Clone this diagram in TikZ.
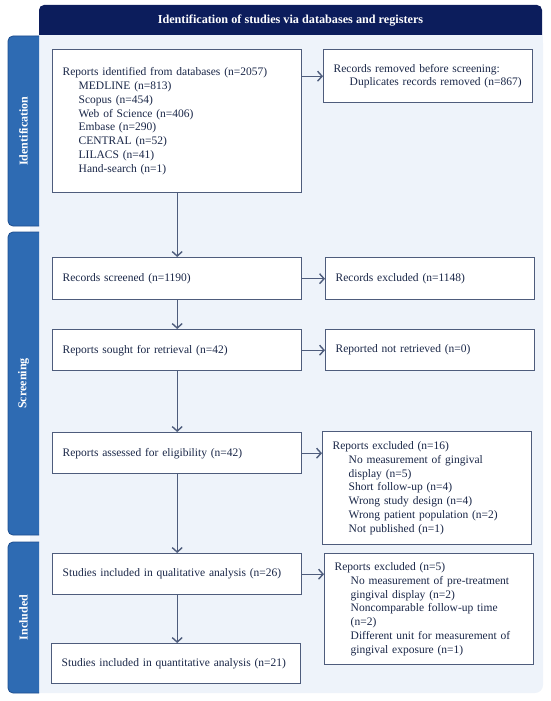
\documentclass[tikz,border=0pt]{standalone}
\usepackage{fontspec}
\setmainfont{Liberation Serif}
\usetikzlibrary{arrows.meta}
\definecolor{navy}{HTML}{0C1D5C}
\definecolor{tabc}{HTML}{2E6BB3}
\definecolor{tabd}{HTML}{1E4E8F}
\definecolor{bgc}{HTML}{EEF3FA}
\definecolor{linec}{HTML}{4E5C7C}
\definecolor{txt}{HTML}{1A2748}
\tikzset{
  box/.style={draw=linec, line width=1.4pt, fill=white, align=left, anchor=north west,
    inner xsep=10pt, inner ysep=0pt, text=txt, font=\fontsize{11.5}{13.8}\selectfont},
  arr/.style={draw=linec, line width=1.4pt, -{Straight Barb[length=4.5pt,width=10pt,line width=1.4pt]}},
  tablabel/.style={rotate=90, text=white, font=\fontsize{12}{13}\selectfont\bfseries},
  tabshape/.style={fill=tabc, rounded corners=5pt},
  taboutline/.style={draw=tabd, line width=0.8pt, rounded corners=5pt}
}
\newcommand{\ind}{\hspace*{16pt}}
\begin{document}
\begin{tikzpicture}[x=1pt,y=-1pt]
\useasboundingbox (0,0) rectangle (550,701);
% background panel
\fill[bgc, rounded corners=8pt] (30,35) rectangle (543,693);
\fill[bgc] (500,35) rectangle (543,60);
\fill[bgc] (30,650) rectangle (60,693);
% header
\fill[navy, rounded corners=5pt] (39,35) -- (39,5) -- (542,5) -- (542,35);
\node[text=white, font=\fontsize{12.2}{13}\selectfont\bfseries] (hdr) at (290.5,20.5) {Identification of studies via databases and registers};
% tabs
\fill[tabshape] (39,36) -- (8,36) -- (8,226) -- (39,226);
\draw[taboutline] (39,36) -- (8,36) -- (8,226) -- (39,226);
\fill[tabshape] (39,232) -- (8,232) -- (8,535) -- (39,535);
\draw[taboutline] (39,232) -- (8,232) -- (8,535) -- (39,535);
\fill[tabshape] (39,542) -- (8,542) -- (8,693) -- (39,693);
\draw[taboutline] (39,542) -- (8,542) -- (8,693) -- (39,693);
\node[tablabel] (tid) at (23.5,131) {Identification};
\node[tablabel] (tsc) at (23.5,383.5) {Screening};
\node[tablabel] (tin) at (23.5,617.5) {Included};
% boxes
\node[box, text width=229pt, minimum height=143pt] (b1) at (52,49) {Reports identified from databases (n=2057)\\
\ind MEDLINE (n=813)\\
\ind Scopus (n=454)\\
\ind Web of Science (n=406)\\
\ind Embase (n=290)\\
\ind CENTRAL (n=52)\\
\ind LILACS (n=41)\\
\ind Hand-search (n=1)};
\node[box, text width=189pt, minimum height=53pt] (rem) at (323,49) {Records removed before screening:\\
\ind Duplicates records removed (n=867)};
\node[box, text width=229pt, minimum height=42pt] (scr) at (52,257) {Records screened (n=1190)};
\node[box, text width=189pt, minimum height=42pt] (exc) at (325,257) {Records excluded (n=1148)};
\node[box, text width=229pt, minimum height=41pt] (sou) at (52,329) {Reports sought for retrieval (n=42)};
\node[box, text width=189pt, minimum height=41pt] (nre) at (325,329) {Reported not retrieved (n=0)};
\node[box, text width=229pt, minimum height=41pt] (ass) at (52,432) {Reports assessed for eligibility (n=42)};
\node[box, text width=189pt, minimum height=113pt] (ex16) at (322,431) {Reports excluded (n=16)\\
\ind No measurement of gingival\\
\ind display (n=5)\\
\ind Short follow-up (n=4)\\
\ind Wrong study design (n=4)\\
\ind Wrong patient population (n=2)\\
\ind Not published (n=1)};
\node[box, text width=229pt, minimum height=41pt] (qual) at (52,553) {Studies included in qualitative analysis (n=26)};
\node[box, text width=189pt, minimum height=111pt] (ex5) at (324,553) {Reports excluded (n=5)\\
\ind No measurement of pre-treatment\\
\ind gingival display (n=2)\\
\ind Noncomparable follow-up time\\
\ind (n=2)\\
\ind Different unit for measurement of\\
\ind gingival exposure (n=1)};
\node[box, text width=229pt, minimum height=40pt] (quan) at (51,643) {Studies included in quantitative analysis (n=21)};
% arrows
\draw[arr] (b1.east |- rem.west) -- (rem.west);
\draw[arr] (b1.south) -- (scr.north);
\draw[arr] (scr.east) -- (exc.west);
\draw[arr] (scr.south) -- (sou.north);
\draw[arr] (sou.east) -- (nre.west);
\draw[arr] (sou.south) -- (ass.north);
\draw[arr] (ass.east) -- (ass.east -| ex16.west);
\draw[arr] (ass.south) -- (qual.north);
\draw[arr] (qual.east) -- (qual.east -| ex5.west);
\draw[arr] (qual.south) -- (quan.north -| qual.south);
\end{tikzpicture}
\end{document}
